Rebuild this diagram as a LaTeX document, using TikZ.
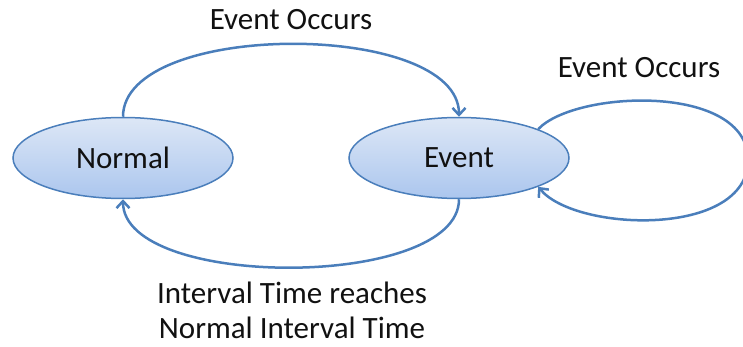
\documentclass[tikz,border=0pt]{standalone}
\usepackage{fontspec}
\setmainfont{Carlito}
\usetikzlibrary{shapes.geometric,arrows.meta}
\definecolor{edgeblue}{HTML}{4A7EBB}
\definecolor{filltop}{HTML}{DDE7F6}
\definecolor{fillbot}{HTML}{ABC6EE}
\definecolor{textdark}{HTML}{111111}
\begin{document}
\begin{tikzpicture}[x=1pt,y=-1pt,
  state/.style={ellipse, draw=edgeblue, line width=1.5pt,
    top color=filltop, bottom color=fillbot,
    minimum width=220pt, minimum height=81pt, inner sep=0pt,
    font=\fontsize{31}{36}\selectfont, text=textdark},
  trans/.style={draw=edgeblue, line width=2.5pt,
    -{Straight Barb[length=7pt,width=13pt]}},
  lbl/.style={font=\fontsize{31}{36}\selectfont, text=textdark,
    inner sep=0pt, anchor=base},
]
\useasboundingbox (0,0) rectangle (743,347);

% states
\node[state] (normal) at (123,158) {Normal};
\node[state] (event)  at (459,158) {Event};

% transition labels
\node[lbl] (occurs)   at (291,30)  {Event Occurs};
\node[lbl] (again)    at (639,78)  {Event Occurs};
\node[lbl] (reached)  at (292,303) {Interval Time reaches};
\node[lbl] (normtime) at (292,338) {Normal Interval Time};

% transitions
\coordinate (loopR) at (748,160);
\draw[trans] (normal.north) .. controls (123,20) and (459,20) .. (event.north);
\draw[trans] (event.south) .. controls (459,290) and (123,290) .. (normal.south);
\draw[trans] (event.20) .. controls (575,90) and (748,83) .. (loopR)
  .. controls (748,238) and (575,232) .. (event.-20);
\end{tikzpicture}
\end{document}
